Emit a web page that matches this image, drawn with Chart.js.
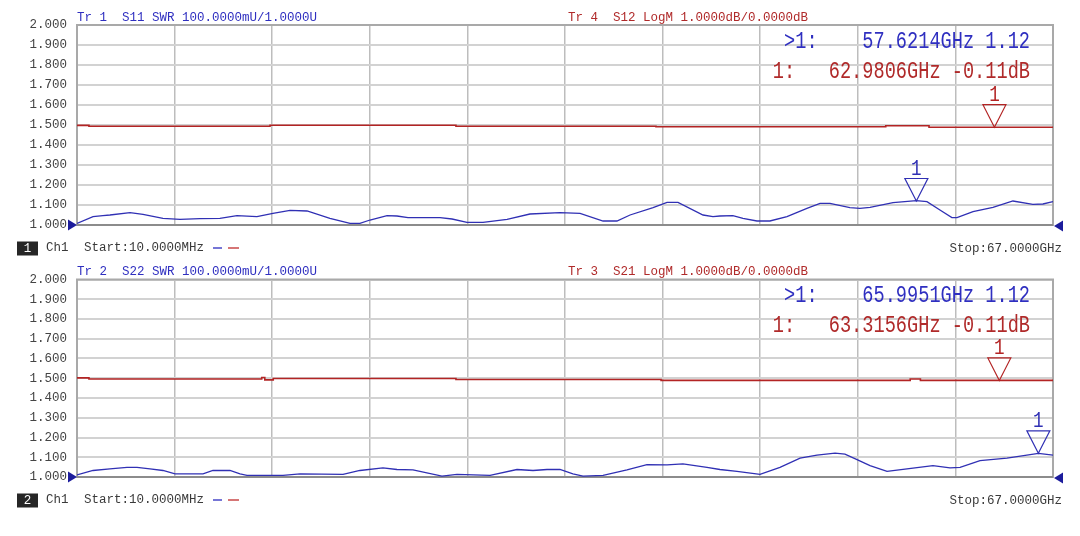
<!DOCTYPE html>
<html>
<head>
<meta charset="utf-8">
<script src="https://cdn.jsdelivr.net/npm/chart.js@4.4.1/dist/chart.umd.min.js"></script>
<style>
  html, body { margin: 0; padding: 0; background: #ffffff; }
  #wrap { position: relative; width: 1080px; height: 536px; overflow: hidden; }
  canvas { position: absolute; left: 0; }
  #c1 { top: 0; }
  #c2 { top: 262px; }
</style>
</head>
<body>
<div id="wrap">
  <canvas id="c1" width="1080" height="262"></canvas>
  <canvas id="c2" width="1080" height="274"></canvas>
</div>
<script>
// ---------------- DATA ----------------
const freqStartGHz = 0.01;
const freqStopGHz = 67;
const swrTickLabels = ['1.000','1.100','1.200','1.300','1.400','1.500','1.600','1.700','1.800','1.900','2.000'];
const swrTickValues = [1.0,1.1,1.2,1.3,1.4,1.5,1.6,1.7,1.8,1.9,2.0];

// Panel 1 : Tr1 S11 SWR (blue)
const s11Freq = [0.01,1.11,1.79,2.27,3.65,4.54,5.91,7.08,8.45,9.82,10.99,12.36,13.46,14.63,15.80,17.37,18.75,19.43,20.12,21.29,21.97,22.73,24.93,25.75,26.78,27.88,29.53,31.10,33.16,34.54,36.12,37.07,37.97,39.55,40.51,41.26,42.98,43.66,44.14,45.03,45.72,46.68,47.57,48.74,50.11,51.01,51.69,53.06,53.75,54.44,56.02,57.62,58.35,59.24,60.06,60.41,61.51,62.88,64.25,65.62,66.31,67.00];
const s11Swr  = [1.008,1.042,1.047,1.050,1.062,1.053,1.033,1.028,1.032,1.033,1.047,1.042,1.058,1.073,1.070,1.033,1.008,1.008,1.025,1.047,1.045,1.037,1.037,1.030,1.013,1.013,1.028,1.055,1.062,1.058,1.020,1.020,1.050,1.087,1.113,1.113,1.050,1.042,1.045,1.047,1.033,1.020,1.020,1.042,1.083,1.108,1.108,1.087,1.083,1.088,1.112,1.122,1.117,1.075,1.037,1.037,1.067,1.088,1.120,1.103,1.105,1.117];
// Panel 1 : Tr4 S12 LogM dB (red)
const s12Freq = [0.01,0.83,13.26,26.02,39.75,55.52,58.49,67.00];
const s12dB   = [-0.02,-0.065,-0.015,-0.065,-0.09,-0.04,-0.11,-0.11];

// Panel 2 : Tr2 S22 SWR (blue)
const s22Freq = [0.01,1.11,2.27,3.44,4.13,5.02,5.91,6.74,8.66,9.34,10.51,11.20,11.68,14.15,15.32,18.27,19.43,21.01,21.97,23.07,25.06,26.09,28.36,30.21,31.31,32.27,33.16,34.05,34.74,36.12,37.76,39.13,40.51,41.60,43.25,44.14,45.31,46.89,48.26,49.64,50.80,52.04,52.72,53.55,54.44,55.61,56.98,58.76,59.93,60.62,61.99,63.84,66.00,67.00];
const s22Swr  = [1.011,1.033,1.041,1.049,1.049,1.041,1.033,1.016,1.016,1.033,1.033,1.016,1.008,1.008,1.016,1.013,1.033,1.046,1.038,1.036,1.004,1.013,1.008,1.038,1.033,1.038,1.038,1.016,1.004,1.008,1.036,1.063,1.061,1.066,1.049,1.038,1.028,1.013,1.049,1.096,1.111,1.121,1.116,1.088,1.058,1.029,1.041,1.058,1.046,1.049,1.083,1.096,1.120,1.111];
// Panel 2 : Tr3 S21 LogM dB (red)
const s21Freq = [0.01,0.83,12.69,12.90,13.48,26.02,40.10,57.20,57.90,67.00];
const s21dB   = [0.02,-0.04,0.04,-0.08,-0.01,-0.06,-0.11,-0.04,-0.11,-0.11];

// Markers [frequency GHz, value]
const s11Marker = [57.6214, 1.12];
const s12Marker = [62.9806, -0.11];
const s22Marker = [65.9951, 1.12];
const s21Marker = [63.3156, -0.11];

// ---------------- STYLE ----------------
const BLUE = '#3030b4';
const BLUE_TXT = '#2f2fc0';
const RED = '#b32424';
const RED_TXT = '#b02a2a';
const GRAY_TXT = '#3a3a3a';
const MONO = '"Liberation Mono", "DejaVu Sans Mono", monospace';

function zip(xs, ys) { return xs.map((x, i) => ({ x: x, y: ys[i] })); }

function txt(ctx, s, x, y, size, color, align, sx) {
  ctx.save();
  ctx.font = size + 'px ' + MONO;
  ctx.fillStyle = color;
  ctx.textAlign = align || 'left';
  ctx.textBaseline = 'middle';
  ctx.translate(x, y);
  ctx.scale(sx || 1, 1);
  ctx.fillText(s, 0, 0);
  ctx.restore();
}

function markerTri(ctx, x, y, color, label) {
  ctx.save();
  ctx.strokeStyle = color;
  ctx.lineWidth = 1.2;
  ctx.beginPath();
  ctx.moveTo(x, y);
  ctx.lineTo(x - 11.5, y - 22.5);
  ctx.lineTo(x + 11.5, y - 22.5);
  ctx.closePath();
  ctx.stroke();
  ctx.restore();
  txt(ctx, label, x, y - 32, 22, color, 'center', 0.8);
}

const vnaPlugin = {
  id: 'vna',
  beforeDatasetsDraw(chart) {
    const ctx = chart.ctx, ca = chart.chartArea;
    ctx.save();
    ctx.strokeStyle = '#a9a9a9';
    ctx.lineWidth = 2;
    ctx.strokeRect(ca.left, ca.top, ca.right - ca.left, ca.bottom - ca.top);
    ctx.strokeStyle = '#8c8c8c';
    ctx.beginPath();
    ctx.moveTo(ca.left, ca.bottom); ctx.lineTo(ca.right, ca.bottom);
    ctx.stroke();
    ctx.restore();
  },
  afterDraw(chart, args, o) {
    const ctx = chart.ctx, ca = chart.chartArea;
    const xs = chart.scales.x, ys = chart.scales.y, yd = chart.scales.yDb;
    // headers
    txt(ctx, o.titleA, ca.left, ca.top - 7.5, 12.5, BLUE_TXT, 'left');
    txt(ctx, o.titleB, ca.left + 491, ca.top - 7.5, 12.5, RED_TXT, 'left');
    // marker readouts
    const r1 = '>1:    ' + o.mBlue[0].toFixed(4) + 'GHz ' + o.mBlue[1].toFixed(2);
    const r2 = '1:   ' + o.mRed[0].toFixed(4) + 'GHz ' + o.mRed[1].toFixed(2) + 'dB';
    txt(ctx, r1, ca.right - 23, ca.top + 16.8, 23, BLUE_TXT, 'right', 0.81);
    txt(ctx, r2, ca.right - 23, ca.top + 46.8, 23, RED_TXT, 'right', 0.81);
    // marker triangles
    markerTri(ctx, xs.getPixelForValue(o.mRed[0]), yd.getPixelForValue(o.mRed[1]), RED, '1');
    markerTri(ctx, xs.getPixelForValue(o.mBlue[0]), ys.getPixelForValue(o.mBlue[1]), BLUE, '1');
    // reference position arrows
    const yRef = ys.getPixelForValue(1.0);
    ctx.save();
    ctx.fillStyle = '#1c1c9c';
    ctx.beginPath();
    ctx.moveTo(ca.left, yRef); ctx.lineTo(ca.left - 9, yRef - 5.5); ctx.lineTo(ca.left - 9, yRef + 5.5); ctx.closePath(); ctx.fill();
    ctx.beginPath();
    ctx.moveTo(ca.right + 1, yRef + 1); ctx.lineTo(ca.right + 10, yRef - 4.5); ctx.lineTo(ca.right + 10, yRef + 6.5); ctx.closePath(); ctx.fill();
    ctx.restore();
    // footer
    const fy = ca.bottom + 23;
    ctx.save();
    ctx.fillStyle = '#262626';
    ctx.fillRect(17, fy - 6.5, 21, 14);
    ctx.restore();
    txt(ctx, o.channel, 27.5, fy + 0.5, 12.5, '#ffffff', 'center');
    txt(ctx, 'Ch1', 46, fy, 12.5, GRAY_TXT, 'left');
    txt(ctx, o.start, 84, fy, 12.5, GRAY_TXT, 'left');
    ctx.save();
    ctx.lineWidth = 1.5;
    ctx.strokeStyle = '#4848c8';
    ctx.beginPath(); ctx.moveTo(213, fy); ctx.lineTo(222, fy); ctx.stroke();
    ctx.strokeStyle = '#c84848';
    ctx.beginPath(); ctx.moveTo(228, fy); ctx.lineTo(239, fy); ctx.stroke();
    ctx.restore();
    txt(ctx, o.stop, ca.right + 9, fy + 1, 12.5, GRAY_TXT, 'right');
  }
};

function makeChart(id, swrF, swrV, dbF, dbV, padTop, padBottom, opts) {
  return new Chart(document.getElementById(id), {
    type: 'line',
    data: {
      datasets: [
        { data: zip(dbF, dbV), yAxisID: 'yDb', borderColor: RED, borderWidth: 1.6, pointRadius: 0, stepped: true, tension: 0 },
        { data: zip(swrF, swrV), yAxisID: 'y', borderColor: BLUE, borderWidth: 1.3, pointRadius: 0, tension: 0 }
      ]
    },
    options: {
      responsive: false,
      animation: false,
      devicePixelRatio: 1,
      layout: { padding: { left: 0, right: 27, top: padTop, bottom: padBottom } },
      plugins: { legend: { display: false }, tooltip: { enabled: false }, vna: opts },
      scales: {
        x: {
          type: 'linear', min: freqStartGHz, max: freqStopGHz,
          afterBuildTicks(s) {
            const t = [];
            for (let i = 0; i <= 10; i++) t.push({ value: freqStartGHz + i * (freqStopGHz - freqStartGHz) / 10 });
            s.ticks = t;
          },
          afterFit(s) { s.height = 0; },
          ticks: { display: false },
          grid: { color: '#bdbdbd', lineWidth: 1.5, drawTicks: false },
          border: { display: false }
        },
        y: {
          type: 'linear', min: 1, max: 2,
          afterBuildTicks(s) { s.ticks = swrTickValues.map(v => ({ value: v })); },
          afterFit(s) { s.width = 77; },
          ticks: {
            padding: 10,
            color: '#444444',
            font: { family: 'Liberation Mono', size: 12.5 },
            callback: (v, i) => swrTickLabels[i]
          },
          grid: { color: '#d2d2d2', lineWidth: 2, drawTicks: false },
          border: { display: false }
        },
        yDb: { type: 'linear', min: -5, max: 5, display: false }
      }
    },
    plugins: [vnaPlugin]
  });
}

makeChart('c1', s11Freq, s11Swr, s12Freq, s12dB, 25, 37, {
  titleA: 'Tr 1  S11 SWR 100.0000mU/1.0000U',
  titleB: 'Tr 4  S12 LogM 1.0000dB/0.0000dB',
  mBlue: s11Marker, mRed: s12Marker,
  channel: '1', start: 'Start:10.0000MHz', stop: 'Stop:67.0000GHz'
});
makeChart('c2', s22Freq, s22Swr, s21Freq, s21dB, 15, 59, {
  titleA: 'Tr 2  S22 SWR 100.0000mU/1.0000U',
  titleB: 'Tr 3  S21 LogM 1.0000dB/0.0000dB',
  mBlue: s22Marker, mRed: s21Marker,
  channel: '2', start: 'Start:10.0000MHz', stop: 'Stop:67.0000GHz'
});
</script>
</body>
</html>
